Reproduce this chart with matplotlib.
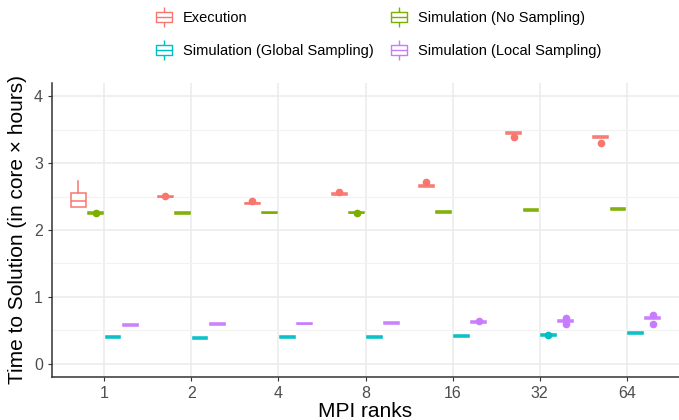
import numpy as np
import matplotlib
matplotlib.use("Agg")
import matplotlib.pyplot as plt
from matplotlib.path import Path
from matplotlib.lines import Line2D

plt.rcParams['font.family'] = ['Liberation Sans', 'DejaVu Sans']

# data
ranks = ['1', '2', '4', '8', '16', '32', '64']
series = ['Execution', 'Simulation (No Sampling)',
          'Simulation (Global Sampling)', 'Simulation (Local Sampling)']
colors = ['#F8766D', '#7CAE00', '#00BFC4', '#C77CFF']

exec_med = [2.44, 2.50, 2.40, 2.54, 2.66, 3.45, 3.39]
exec_q1 = [2.34, 2.49, 2.39, 2.53, 2.65, 3.44, 3.38]
exec_q3 = [2.56, 2.51, 2.41, 2.55, 2.67, 3.46, 3.40]
exec_hi = [2.74, 2.51, 2.41, 2.55, 2.67, 3.46, 3.40]
exec_fliers = [[], [2.51], [2.43], [2.57], [2.72], [3.39], [3.30]]

nosamp_med = [2.256, 2.256, 2.26, 2.26, 2.27, 2.295, 2.315]
nosamp_fliers = [[2.26], [], [], [2.26], [], [], []]

glob_med = [0.394, 0.38, 0.394, 0.40, 0.41, 0.43, 0.455]
glob_fliers = [[], [], [], [], [], [0.43], []]

local_med = [0.58, 0.59, 0.60, 0.605, 0.62, 0.635, 0.68]
local_fliers = [[], [], [], [], [0.645], [0.68, 0.60], [0.73, 0.595]]


def thin_stats(meds, fliers, h=0.013):
    return [dict(med=m, q1=m - h, q3=m + h, whislo=m - h, whishi=m + h, fliers=f)
            for m, f in zip(meds, fliers)]


exec_stats = [dict(med=m, q1=a, q3=b, whislo=a, whishi=w, fliers=f)
              for m, a, b, w, f in zip(exec_med, exec_q1, exec_q3, exec_hi, exec_fliers)]
all_stats = [exec_stats,
             thin_stats(nosamp_med, nosamp_fliers),
             thin_stats(glob_med, glob_fliers),
             thin_stats(local_med, local_fliers)]
offsets = [-0.3, -0.1, 0.1, 0.3]

fig = plt.figure(figsize=(6.79, 4.20), dpi=100)
ax = fig.add_axes([0.0766, 0.1024, 0.9234, 0.70])

x = np.arange(1, len(ranks) + 1)
for stats, off, c in zip(all_stats, offsets, colors):
    ax.bxp(stats, positions=x + off, widths=0.17, patch_artist=True,
           showcaps=False,
           boxprops=dict(facecolor='white', edgecolor=c, linewidth=1.1),
           medianprops=dict(color=c, linewidth=1.1),
           whiskerprops=dict(color=c, linewidth=1.1),
           flierprops=dict(marker='o', markerfacecolor=c, markeredgecolor=c,
                           markersize=4.5, linestyle='none'),
           manage_ticks=False, zorder=3)

ax.set_xlim(0.4, len(ranks) + 0.6)
ax.set_ylim(-0.2, 4.2)
ax.set_xticks(x)
ax.set_xticklabels(ranks)
ax.set_yticks([0, 1, 2, 3, 4])
ax.set_yticks([0.5, 1.5, 2.5, 3.5], minor=True)

ax.grid(True, which='major', color='#EBEBEB', linewidth=1.1)
ax.grid(True, which='minor', axis='y', color='#F2F2F2', linewidth=0.8)
ax.set_axisbelow(True)
for s in ['top', 'right']:
    ax.spines[s].set_visible(False)
for s in ['left', 'bottom']:
    ax.spines[s].set_color('#333333')
    ax.spines[s].set_linewidth(1.1)
ax.tick_params(which='major', length=3, color='#333333', labelcolor='#4D4D4D',
               labelsize=11.5)
ax.tick_params(which='minor', length=0)

ax.set_xlabel('MPI ranks', fontsize=15, labelpad=1)
ax.set_ylabel('Time to Solution (in core \u00d7 hours)', fontsize=15, labelpad=5)

# boxplot-shaped legend keys
key = Path([(-0.56, -0.38), (0.56, -0.38), (0.56, 0.38), (-0.56, 0.38), (-0.56, -0.38),
            (-0.56, 0.0), (0.56, 0.0),
            (0.0, 0.38), (0.0, 0.7),
            (0.0, -0.38), (0.0, -0.7)],
           [Path.MOVETO, Path.LINETO, Path.LINETO, Path.LINETO, Path.CLOSEPOLY,
            Path.MOVETO, Path.LINETO,
            Path.MOVETO, Path.LINETO,
            Path.MOVETO, Path.LINETO])
handles = {name: Line2D([], [], linestyle='none', marker=key, markersize=14.4,
                        markerfacecolor='none', markeredgecolor=c, markeredgewidth=1.0)
           for name, c in zip(series, colors)}
order = [series[0], series[2], series[1], series[3]]
fig.legend([handles[n] for n in order], order, ncol=2, loc='upper center',
           bbox_to_anchor=(0.556, 1.005), frameon=False, fontsize=10.5,
           labelspacing=1.3, columnspacing=1.05, handletextpad=0.6,
           handlelength=1.4)

fig.savefig('out.png', dpi=100)
